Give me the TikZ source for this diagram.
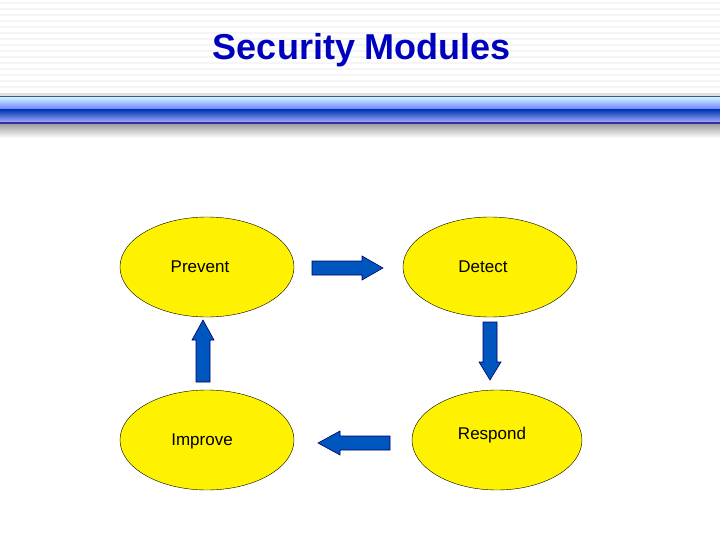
\documentclass[tikz,border=0pt]{standalone}
\usepackage{fontspec}
\setmainfont{Liberation Sans}
\usetikzlibrary{shapes.geometric}
\begin{document}
\begin{tikzpicture}[x=1pt,y=-1pt,
  ell/.style={ellipse,draw=black,fill=yellow,minimum width=174pt,minimum height=100pt,inner sep=0pt},
  lbl/.style={font=\fontsize{17}{19}\selectfont},
  blk/.style={draw=black!60!blue,fill=blue!55!cyan!75!black,line width=0.6pt}]
\useasboundingbox (0,0) rectangle (720,540);
\fill[white] (0,0) rectangle (720,540);
\foreach \y in {2,8,14,20,26,32,38,44,50,56,62,68,74,80,86}{\fill[gray!8] (0,\y) rectangle (720,\y+2);}
\fill[gray!25] (0,93) rectangle (720,96);
\fill[blue!40!black!70] (0,96) rectangle (720,98);
\shade[top color=blue!25!cyan!25,bottom color=blue!55] (0,98) rectangle (720,110);
\shade[top color=blue!65!cyan!70!black,bottom color=blue!35] (0,110) rectangle (720,122);
\fill[blue!55!black!80] (0,122) rectangle (720,125);
\shade[top color=gray!70,bottom color=white] (0,125) rectangle (720,138);
\node[font=\bfseries\fontsize{36}{40}\selectfont,text=blue!75!black] (title) at (362,50) {Security Modules};
\node[ell] (p) at (207,267) {};
\node[ell] (d) at (490,267) {};
\node[ell] (i) at (207,440) {};
\node[ell,minimum width=170pt] (r) at (497,440) {};
\node[lbl] (pt) at (200,267) {Prevent};
\node[lbl] (dt) at (483,267) {Detect};
\node[lbl] (it) at (202,441) {Improve};
\node[lbl] (rt) at (492,435) {Respond};
% right
\draw[blk] (312,261) -- (362,261) -- (362,256) -- (383,268) -- (362,280) -- (362,275) -- (312,275) -- cycle;
% down
\draw[blk] (483,322) -- (497,322) -- (497,362) -- (501,362) -- (490,380) -- (479,362) -- (483,362) -- cycle;
% left
\draw[blk] (390,436) -- (340,436) -- (340,431) -- (318,443) -- (340,455) -- (340,450) -- (390,450) -- cycle;
% up
\draw[blk] (196,382) -- (210,382) -- (210,340) -- (214,340) -- (203,320) -- (192,340) -- (196,340) -- cycle;
\end{tikzpicture}
\end{document}
